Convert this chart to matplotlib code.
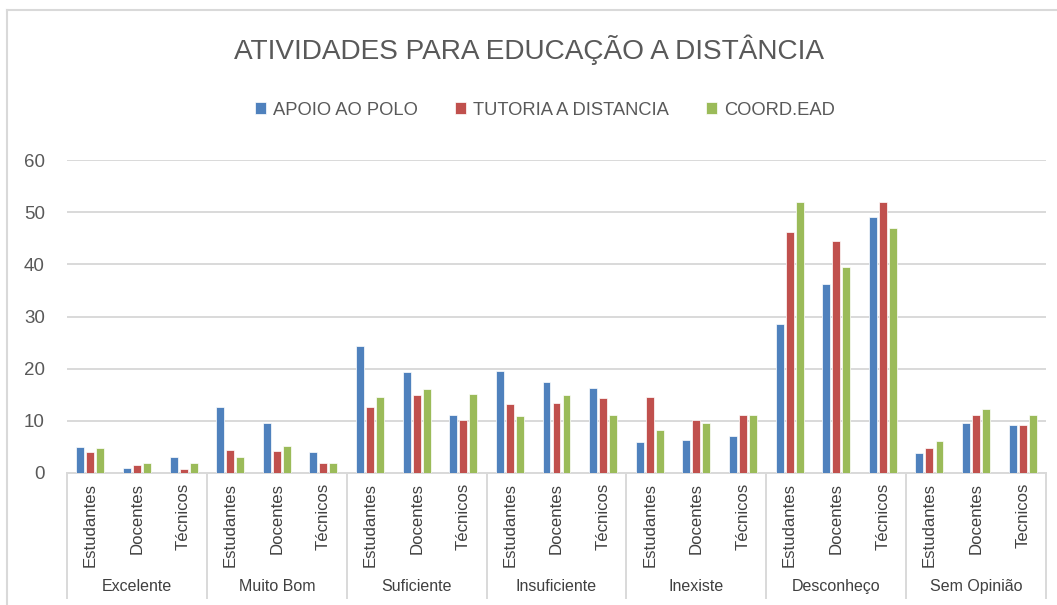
import matplotlib.pyplot as plt
import matplotlib.transforms as mtransforms
from matplotlib.lines import Line2D
import numpy as np

plt.rcParams["font.family"] = ["Liberation Sans Narrow", "Liberation Sans", "DejaVu Sans"]

# data
groups = ["Excelente", "Muito Bom", "Suficiente", "Insuficiente", "Inexiste", "Desconheço", "Sem Opinião"]
subgroups = [
    ["Estudantes", "Docentes", "Técnicos"],
    ["Estudantes", "Docentes", "Técnicos"],
    ["Estudantes", "Docentes", "Técnicos"],
    ["Estudantes", "Docentes", "Técnicos"],
    ["Estudantes", "Docentes", "Técnicos"],
    ["Estudantes", "Docentes", "Técnicos"],
    ["Estudantes", "Docentes", "Tecnicos"],
]
series_names = ["APOIO AO POLO", "TUTORIA A DISTANCIA", "COORD.EAD"]
apoio_polo = [5.0, 1.0, 3.0, 12.6, 9.5, 4.0, 24.3, 19.3, 11.1, 19.6, 17.5, 16.2,
              6.0, 6.3, 7.0, 28.5, 36.3, 49.0, 3.8, 9.5, 9.2]
tutoria = [4.0, 1.6, 0.8, 4.4, 4.3, 1.9, 12.6, 15.0, 10.2, 13.2, 13.4, 14.4,
           14.5, 10.2, 11.1, 46.2, 44.4, 52.0, 4.7, 11.1, 9.2]
coord_ead = [4.8, 2.0, 1.9, 3.1, 5.2, 1.9, 14.5, 16.1, 15.2, 11.0, 15.0, 11.1,
             8.2, 9.5, 11.1, 51.9, 39.5, 46.9, 6.2, 12.3, 11.1]
colors = ["#4F81BD", "#C0504D", "#9BBB59"]

text_gray = "#595959"
grid_gray = "#D9D9D9"

fig = plt.figure(figsize=(10.57, 6.05), dpi=100)
ax = fig.add_axes([0.0634, 0.2182, 0.9262, 0.5173])

labels = [s for sub in subgroups for s in sub]
x = np.arange(len(labels))
width = 0.17
step = 0.215
for i, vals in enumerate([apoio_polo, tutoria, coord_ead]):
    ax.bar(x + (i - 1) * step, vals, width, color=colors[i], edgecolor="white",
           linewidth=0.5, label=series_names[i], zorder=3)

ax.set_xlim(-0.5, len(labels) - 0.5)
ax.set_ylim(0, 60)
ax.set_yticks(range(0, 61, 10))
ax.yaxis.grid(True, color=grid_gray, linewidth=1.4, zorder=0)
for side in ["top", "right", "left"]:
    ax.spines[side].set_visible(False)
ax.spines["bottom"].set_color(grid_gray)
ax.spines["bottom"].set_linewidth(1.4)
ax.tick_params(axis="y", length=0, pad=16, labelsize=13.5, labelcolor=text_gray)
ax.set_xticks(x)
ax.set_xticklabels(labels, rotation=90, fontsize=12.1, color="#404040")
ax.tick_params(axis="x", length=0, pad=7)

# group separators and group labels under the axis
trans = mtransforms.blended_transform_factory(ax.transData, ax.transAxes)
for g in range(len(groups) + 1):
    ax.plot([g * 3 - 0.5, g * 3 - 0.5], [0, -0.40], color=grid_gray, linewidth=1.4,
            transform=trans, clip_on=False)
for g, name in enumerate(groups):
    ax.text(g * 3 + 1, -0.362, name, transform=trans, ha="center", va="center",
            fontsize=11.5, color="#404040")

fig.text(0.5, 1 - 50 / 605, "ATIVIDADES PARA EDUCAÇÃO A DISTÂNCIA", ha="center",
         va="center", fontsize=20.2, color=text_gray)
fig.legend(loc="center", bbox_to_anchor=(545 / 1057, 1 - 110 / 605), ncol=3,
           frameon=False, fontsize=13.2, handlelength=0.6, handleheight=0.6,
           handletextpad=0.4, columnspacing=2.0, labelcolor=text_gray)

# outer chart frame (top and left edges visible)
fig.add_artist(Line2D([7 / 1057, 7 / 1057], [0, 1 - 10 / 605], color=grid_gray, linewidth=1.5))
fig.add_artist(Line2D([7 / 1057, 1], [1 - 10 / 605, 1 - 10 / 605], color=grid_gray, linewidth=1.5))

fig.savefig("out.png", dpi=100)
